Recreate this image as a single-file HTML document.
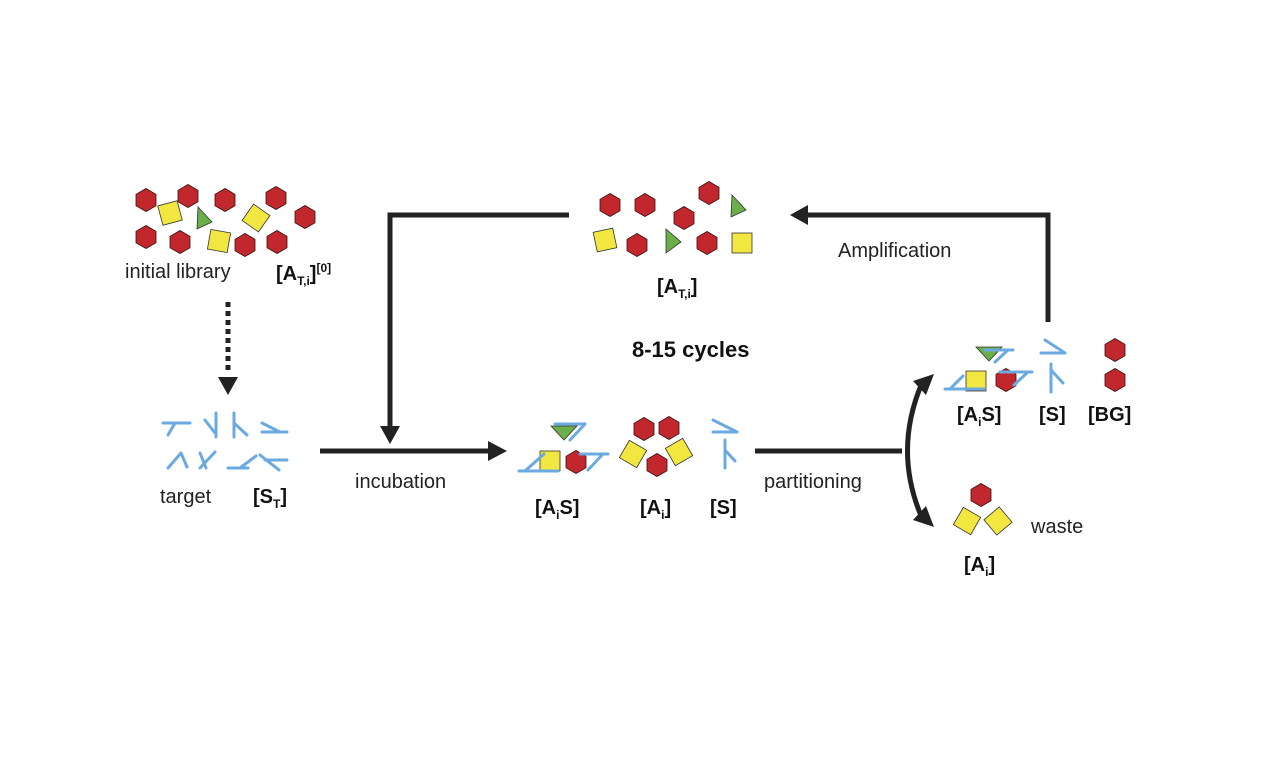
<!DOCTYPE html>
<html><head><meta charset="utf-8"><style>
body{margin:0;background:#fff}
svg{display:block}
text{font-family:"Liberation Sans",sans-serif;fill:#222}
.b{font-weight:bold;fill:#111}
</style></head><body>
<svg id="s" width="1271" height="760" viewBox="0 0 1271 760">
<g id="arrows" stroke="#222" stroke-width="5" fill="none">
<path d="M569,215 H390 V432"/>
<path d="M320,451 H492"/>
<path d="M755,451 H902"/>
<path d="M1048,322 V215 H802"/>
<path d="M922,383 Q893,451 922,518"/>
<path stroke-dasharray="5,4" d="M228,302 V372"/>
</g>
<g fill="#222">
<polygon points="380,426 400,426 390,444"/>
<polygon points="488,441 507,451 488,461"/>
<polygon points="808,205 790,215 808,225"/>
<polygon points="218,377 238,377 228,395"/>
<polygon points="913,381 934,374 926,395"/>
<polygon points="913,520 934,527 926,506"/>
</g>
<g id="shapes"></g>
<g id="targets" stroke="#6aaae0" stroke-width="3" fill="none" stroke-linecap="round"></g>
<g font-size="20">
<text x="125" y="278">initial library</text>
<text x="276" y="280" class="b">[A<tspan font-size="12" dy="5">T,i</tspan><tspan dy="-5">]</tspan><tspan font-size="12" dy="-8">[0]</tspan></text>
<text x="160" y="503">target</text>
<text x="253" y="503" class="b">[S<tspan font-size="12" dy="5">T</tspan><tspan dy="-5">]</tspan></text>
<text x="355" y="488">incubation</text>
<text x="657" y="293" class="b">[A<tspan font-size="12" dy="5">T,i</tspan><tspan dy="-5">]</tspan></text>
<text x="632" y="357" class="b" font-size="22">8-15 cycles</text>
<text x="838" y="257">Amplification</text>
<text x="764" y="488">partitioning</text>
<text x="535" y="514" class="b">[A<tspan font-size="12" dy="5">i</tspan><tspan dy="-5">S]</tspan></text>
<text x="640" y="514" class="b">[A<tspan font-size="12" dy="5">i</tspan><tspan dy="-5">]</tspan></text>
<text x="710" y="514" class="b">[S]</text>
<text x="957" y="421" class="b">[A<tspan font-size="12" dy="5">i</tspan><tspan dy="-5">S]</tspan></text>
<text x="1039" y="421" class="b">[S]</text>
<text x="1088" y="421" class="b">[BG]</text>
<text x="1031" y="533">waste</text>
<text x="964" y="571" class="b">[A<tspan font-size="12" dy="5">i</tspan><tspan dy="-5">]</tspan></text>
</g>
</svg>
<script>
const NS='http://www.w3.org/2000/svg';
const hexes=[[146,200],[188,196],[225,200],[276,198],[305,217],[146,237],[180,242],[245,245],[277,242],
[610,205],[645,205],[684,218],[709,193],[637,245],[707,243],
[576,462],[644,429],[669,428],[657,465],[1006,380],[1115,350],[1115,380],[981,495]];
const squares=[[170,213,-15],[256,218,35],[219,241,10],[605,240,-12],[742,243,0],
[550,461,0],[633,454,30],[679,452,-30],[976,381,0],[967,521,30],[998,521,-40]];
const tris=[[204,219,0],[738,207,0],[672,241,1],[564,433,2],[989,354,2]];
const g=document.getElementById('shapes');
function mk(tag,attrs){const e=document.createElementNS(NS,tag);for(const k in attrs)e.setAttribute(k,attrs[k]);g.appendChild(e);return e;}
hexes.forEach(([x,y])=>{let p=[];for(let i=0;i<6;i++){const a=Math.PI/3*i+Math.PI/6;p.push((x+11.5*Math.cos(a)).toFixed(1)+','+(y+11.5*Math.sin(a)).toFixed(1));}
const e=mk('polygon',{points:p.join(' '),fill:'#c1272d',stroke:'#3a1010','stroke-width':0.8});

});
squares.forEach(([x,y,r])=>{const e=mk('rect',{x:x-10,y:y-10,width:20,height:20,fill:'#f2e640',stroke:'#333','stroke-width':0.8,transform:`rotate(${r} ${x} ${y})`});

});
tris.forEach(([x,y,t])=>{let pts;if(t==0)pts=`${x-6},${y-12} ${x+8},${y+3} ${x-7},${y+10}`;else if(t==1)pts=`${x-6},${y-12} ${x+9},${y+1} ${x-6},${y+12}`;else pts=`${x-13},${y-7} ${x+13},${y-7} ${x},${y+7}`;
const e=mk('polygon',{points:pts,fill:'#6aaf4a',stroke:'#333','stroke-width':0.8});

});
const tg=document.getElementById('targets');
const lines=[
"M163,423 H190 M175,423 L168,435","M205,420 L215,433 M216,413 V437","M234,413 V437 M234,423 L247,435","M262,423 L280,432 M262,432 H287",
"M168,468 L181,453 M181,453 L187,467","M200,468 L215,452 M200,453 L206,468","M228,468 H248 M240,468 L256,456","M260,455 L279,470 M265,460 H287",
"M555,424 H585 M570,440 L585,424","M519,471 H558 M525,471 L544,454","M580,454 H608 M588,470 L603,454",
"M713,420 L737,432 M713,432 H737","M725,440 V468 M725,450 L735,461",
"M985,350 H1013 M995,362 L1008,350","M945,389 H984 M950,389 L963,376","M1000,372 H1032 M1014,385 L1028,372",
"M1041,353 H1064 M1045,340 L1065,353","M1051,364 V392 M1051,370 L1063,383"];
lines.forEach(d=>{const e=document.createElementNS(NS,'path');e.setAttribute('d',d);


tg.appendChild(e);});
</script>
</body></html>
